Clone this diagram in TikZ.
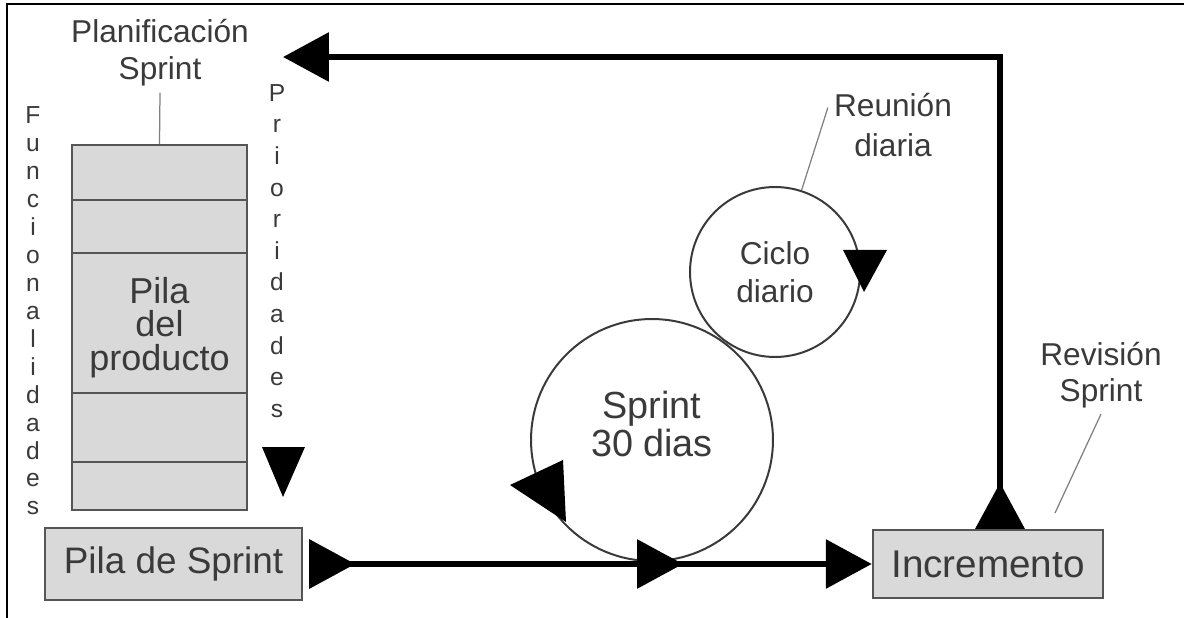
\documentclass[tikz,border=0pt]{standalone}
\usepackage{fontspec}
\setmainfont{Liberation Sans}
\usetikzlibrary{arrows.meta}
\definecolor{boxfill}{HTML}{D9D9D9}
\definecolor{boxline}{HTML}{555555}
\definecolor{inkgray}{HTML}{3A3A3A}
\tikzset{
  flowend/.style={-{Triangle[length=0.92cm,width=0.96cm]}},
  flowboth/.style={{Triangle[length=0.92cm,width=0.96cm,reversed]}-{Triangle[length=0.92cm,width=0.96cm]}},
}
\begin{document}
\begin{tikzpicture}[x=0.02cm,y=-0.02cm,
  greybox/.style={draw=boxline,line width=0.05cm,fill=boxfill,text=inkgray,inner sep=0pt},
  cyclenode/.style={draw=inkgray,circle,line width=0.04cm,inner sep=0pt,text=inkgray,align=center},
  sidetext/.style={align=center,text=inkgray,font=\fontsize{18}{21}\selectfont},
  vtext/.style={align=center,text=inkgray,inner sep=0pt},
  flow/.style={line width=0.13cm},
  leader/.style={draw=gray,line width=0.025cm}]
\useasboundingbox (0,0) rectangle (1184,618);
% marco
\draw[line width=0.04cm] (7,618) -- (7,4) -- (1184,4);

% pila del producto
\node[greybox,minimum width=3.5cm,minimum height=7.3cm,align=center,
  font=\fontsize{20.5}{19}\selectfont] (pila) at (159.5,327.5) {Pila\\del\\producto};
\foreach \y in {200,253,393,462}
  \draw[boxline,line width=0.05cm] (pila.west |- 0,\y) -- (pila.east |- 0,\y);
\node[sidetext] (planif) at (160,53) {Planificación\\Sprint};
\draw[leader] (planif.south) -- (pila.north);
\node[vtext,font=\fontsize{14}{15.9}\selectfont] (funcs) at (33,311)
  {F\\u\\n\\c\\i\\o\\n\\a\\l\\i\\d\\a\\d\\e\\s};
\node[vtext,font=\fontsize{14}{18}\selectfont] (prios) at (277,251)
  {P\\r\\i\\o\\r\\i\\d\\a\\d\\e\\s};
\fill (262,447) -- (305,447) -- (283,497) -- cycle;

% cajas de abajo
\node[greybox,minimum width=5.14cm,minimum height=1.44cm,
  font=\fontsize{21}{21}\selectfont] (psprint) at (173.5,564) {Pila de Sprint};
\node[greybox,minimum width=4.6cm,minimum height=1.36cm,
  font=\fontsize{22}{22}\selectfont] (incr) at (988,564) {Incremento};

% ciclos
\node[cyclenode,minimum size=4.84cm] (sprint) at (652,440) {};
\node[vtext,font=\fontsize{21.5}{21.5}\selectfont] (sprinttxt) at (652,424) {Sprint\\30 dias};
\node[cyclenode,minimum size=3.4cm,font=\fontsize{18}{21.5}\selectfont] (ciclo) at (775,272) {Ciclo\\diario};
\fill (563,460) -- (566,522) -- (510,485) -- cycle;
\fill (843,250) -- (887,250) -- (864,292) -- cycle;

% flujo
\coordinate (mid) at (683,564);
\draw[flow,flowboth] ([xshift=0.12cm]psprint.east) -- (incr.west);
\draw[flow,flowend] ([xshift=0.12cm]psprint.east) -- (mid);
\coordinate (ret) at (283,57);
\draw[flow,flowboth] ([xshift=0.24cm]incr.north) |- (ret);

% etiquetas
\node[sidetext,font=\fontsize{18}{22.7}\selectfont] (reunion) at (893,125) {Reunión\\diaria};
\draw[leader] (ciclo.72) -- (reunion.165);
\node[sidetext,font=\fontsize{18}{20.4}\selectfont] (revision) at (1101,375) {Revisión\\Sprint};
\coordinate (revend) at (1055,513);
\draw[leader] (revision.south) -- (revend);
\end{tikzpicture}
\end{document}
